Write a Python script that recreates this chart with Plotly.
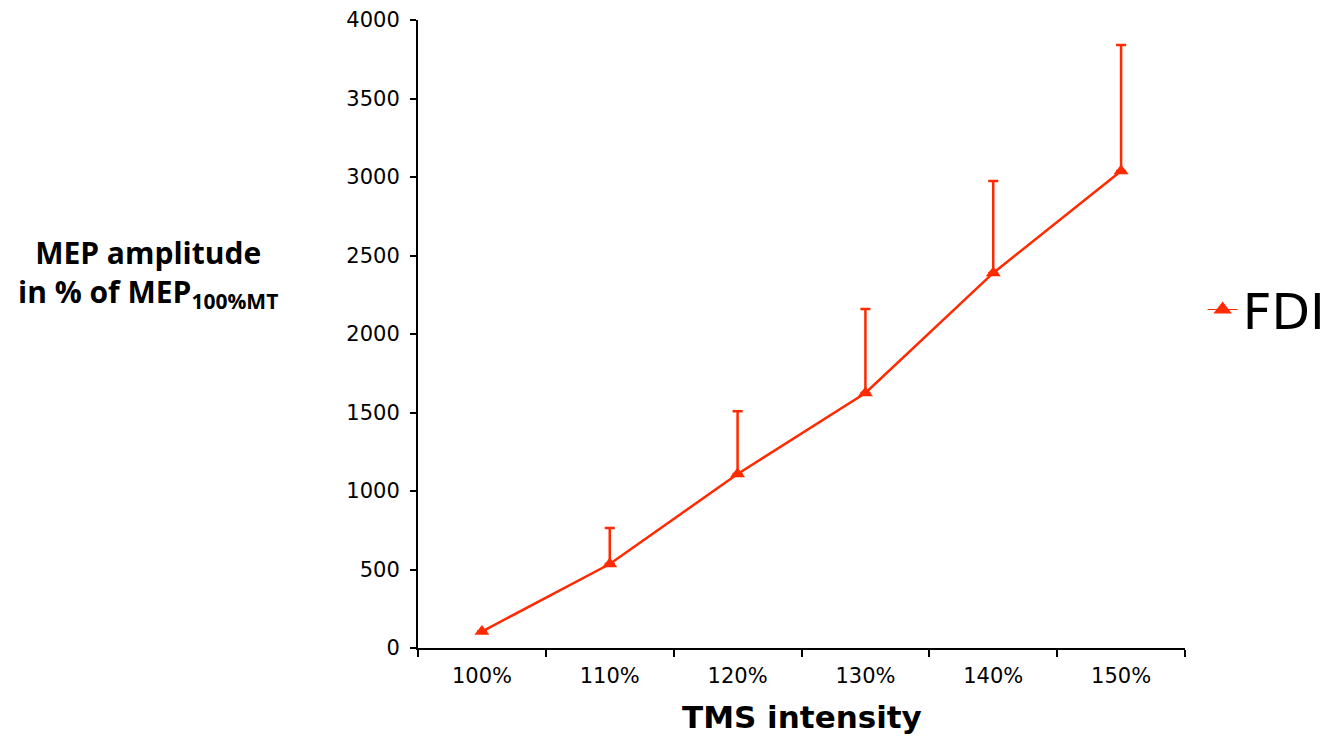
import plotly.graph_objects as go

categories = ["100%", "110%", "120%", "130%", "140%", "150%"]
fdi_mean = [105, 535, 1108, 1624, 2389, 3038]
fdi_err = [0, 230, 400, 535, 586, 803]
y_ticks = [0, 500, 1000, 1500, 2000, 2500, 3000, 3500, 4000]

red = "#ff2a00"

fig = go.Figure()
fig.add_trace(go.Scatter(
    x=categories, y=fdi_mean, name="FDI", mode="lines+markers", showlegend=False,
    line=dict(color=red, width=2.5),
    marker=dict(symbol="triangle-up", size=13, color=red),
    error_y=dict(type="data", array=fdi_err, arrayminus=[0]*len(fdi_err),
                 symmetric=False, color=red, thickness=2.5, width=5),
))
# legend entry (larger marker, thin line as in the reference)
fig.add_trace(go.Scatter(
    x=[None], y=[None], name="FDI", mode="lines+markers",
    line=dict(color=red, width=1.2),
    marker=dict(symbol="triangle-up", size=16, color=red),
))

fig.update_layout(
    width=1335, height=736,
    margin=dict(l=410, r=158, t=12, b=96),
    plot_bgcolor="white", paper_bgcolor="white",
    showlegend=True,
    legend=dict(x=1.023, y=0.539, xanchor="left", yanchor="middle",
                font=dict(family="DejaVu Sans", size=50, color="black"),
                bgcolor="rgba(0,0,0,0)", itemwidth=30),
    xaxis=dict(type="category", showline=True, linecolor="black", linewidth=2,
               ticks="outside", tickson="boundaries", ticklen=7, tickwidth=2,
               tickcolor="black", showgrid=False, zeroline=False, automargin=False,
               ticklabelstandoff=8,
               tickfont=dict(family="DejaVu Sans", size=21, color="black"),
               range=[-0.5, 5.5]),
    yaxis=dict(range=[0, 4000], tickvals=y_ticks, showline=True, linecolor="black",
               linewidth=2, ticks="outside", ticklen=6, tickwidth=2, tickcolor="black",
               showgrid=False, zeroline=False, ticklabelstandoff=6, automargin=False,
               tickfont=dict(family="DejaVu Sans", size=21, color="black")),
)

fig.add_annotation(text="<b>MEP amplitude</b><br><b>in % of MEP<sub>100%MT</sub></b>",
                   xref="paper", yref="paper", x=-0.352, y=0.597, showarrow=False,
                   xanchor="center", yanchor="middle", align="center",
                   font=dict(family="Open Sans", size=30, color="black"))
fig.add_annotation(text="<b>TMS intensity</b>", xref="paper", yref="paper",
                   x=0.5, y=-0.078, showarrow=False, xanchor="center", yanchor="top",
                   font=dict(family="DejaVu Sans", size=31, color="black"))

fig.write_html("out.html")
